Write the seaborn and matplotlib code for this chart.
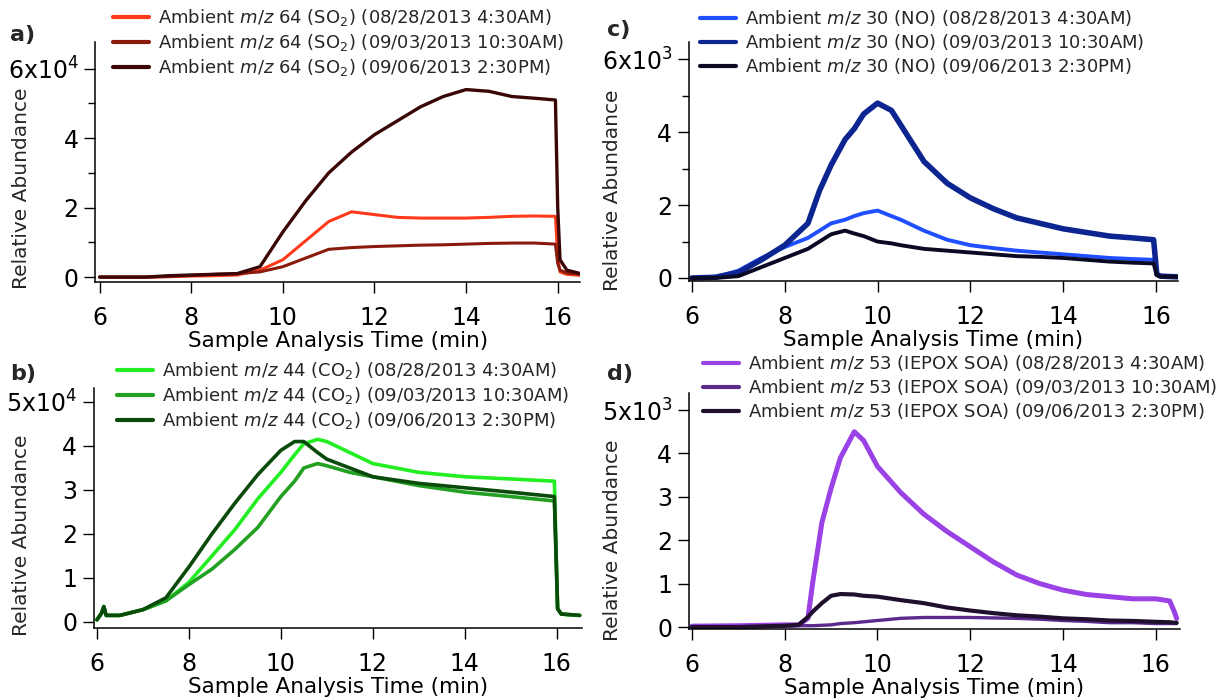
import matplotlib
matplotlib.use("Agg")
import matplotlib.pyplot as plt
import seaborn as sns
from matplotlib.ticker import FixedLocator, FuncFormatter

# ---------------- data ----------------
# Panel a: m/z 64 (SO2), units of 1e4
t_a = [6.0, 7.0, 7.5, 8.0, 8.5, 9.0, 9.5, 10.0, 10.5, 11.0, 11.5, 12.0, 12.5, 13.0,
       13.5, 14.0, 14.5, 15.0, 15.5, 15.95, 16.0, 16.05, 16.2, 16.5]
so2_0828 = [0.0, 0.0, 0.01, 0.03, 0.04, 0.06, 0.2, 0.5, 1.05, 1.6, 1.88, 1.8, 1.72, 1.7,
            1.7, 1.7, 1.72, 1.75, 1.76, 1.75, 0.6, 0.15, 0.08, 0.05]
so2_0903 = [0.0, 0.0, 0.02, 0.05, 0.08, 0.1, 0.15, 0.3, 0.55, 0.8, 0.85, 0.88, 0.9, 0.92,
            0.93, 0.95, 0.97, 0.98, 0.98, 0.95, 0.4, 0.2, 0.12, 0.08]
so2_0906 = [0.0, 0.0, 0.04, 0.06, 0.08, 0.1, 0.3, 1.3, 2.2, 3.0, 3.6, 4.1, 4.5, 4.9,
            5.2, 5.4, 5.35, 5.2, 5.15, 5.1, 2.0, 0.5, 0.2, 0.1]

# Panel b: m/z 44 (CO2), units of 1e4
t_b = [6.0, 6.1, 6.15, 6.2, 6.5, 7.0, 7.5, 8.0, 8.5, 9.0, 9.5, 10.0, 10.3, 10.5, 10.8,
       11.0, 11.5, 12.0, 13.0, 14.0, 15.0, 15.95, 16.02, 16.1, 16.5]
co2_0828 = [0.05, 0.2, 0.35, 0.15, 0.15, 0.28, 0.48, 0.9, 1.5, 2.1, 2.8, 3.4, 3.8, 4.05, 4.15,
            4.1, 3.85, 3.6, 3.4, 3.3, 3.25, 3.2, 0.3, 0.18, 0.15]
co2_0903 = [0.05, 0.2, 0.35, 0.15, 0.15, 0.28, 0.48, 0.85, 1.2, 1.65, 2.15, 2.85, 3.2, 3.5, 3.6,
            3.55, 3.4, 3.3, 3.1, 2.95, 2.85, 2.75, 0.3, 0.18, 0.15]
co2_0906 = [0.05, 0.2, 0.35, 0.15, 0.15, 0.28, 0.55, 1.25, 2.0, 2.7, 3.35, 3.9, 4.1, 4.1, 3.85,
            3.7, 3.5, 3.3, 3.15, 3.05, 2.95, 2.85, 0.3, 0.18, 0.15]

# Panel c: m/z 30 (NO), units of 1e3
t_c = [6.0, 6.5, 7.0, 7.5, 8.0, 8.5, 8.75, 9.0, 9.3, 9.5, 9.7, 10.0, 10.3, 10.5, 11.0, 11.5,
       12.0, 12.5, 13.0, 13.5, 14.0, 14.5, 15.0, 15.5, 15.95, 16.02, 16.1, 16.5]
no_0828 = [0.0, 0.02, 0.2, 0.55, 0.85, 1.1, 1.3, 1.5, 1.6, 1.7, 1.78, 1.85, 1.7, 1.6, 1.3, 1.05,
           0.9, 0.82, 0.75, 0.7, 0.65, 0.6, 0.55, 0.52, 0.5, 0.1, 0.05, 0.03]
no_0903 = [0.0, 0.02, 0.15, 0.5, 0.9, 1.5, 2.4, 3.1, 3.8, 4.1, 4.5, 4.8, 4.6, 4.2, 3.2, 2.6,
           2.2, 1.9, 1.65, 1.5, 1.35, 1.25, 1.15, 1.1, 1.05, 0.1, 0.05, 0.03]
no_0906 = [0.0, 0.0, 0.05, 0.3, 0.55, 0.8, 1.0, 1.2, 1.3, 1.22, 1.15, 1.0, 0.95, 0.9, 0.8, 0.75,
           0.7, 0.65, 0.6, 0.58, 0.55, 0.5, 0.45, 0.42, 0.4, 0.08, 0.04, 0.03]

# Panel d: m/z 53 (IEPOX SOA), units of 1e3
t_d = [6.0, 7.0, 8.0, 8.3, 8.5, 8.6, 8.8, 9.0, 9.2, 9.5, 9.7, 10.0, 10.5, 11.0, 11.5, 12.0,
       12.5, 13.0, 13.5, 14.0, 14.5, 15.0, 15.5, 16.0, 16.3, 16.4, 16.45]
iepox_0828 = [0.02, 0.03, 0.05, 0.05, 0.2, 1.0, 2.4, 3.2, 3.9, 4.5, 4.3, 3.7, 3.1, 2.6, 2.2, 1.85,
              1.5, 1.2, 1.0, 0.85, 0.75, 0.7, 0.65, 0.65, 0.6, 0.35, 0.2]
iepox_0903 = [0.0, 0.0, 0.02, 0.03, 0.03, 0.03, 0.04, 0.05, 0.08, 0.1, 0.12, 0.15, 0.2, 0.22, 0.22, 0.22,
              0.21, 0.2, 0.18, 0.15, 0.13, 0.1, 0.1, 0.08, 0.08, 0.08, 0.08]
iepox_0906 = [0.0, 0.0, 0.03, 0.05, 0.23, 0.35, 0.55, 0.72, 0.76, 0.75, 0.72, 0.7, 0.62, 0.55, 0.45, 0.38,
              0.32, 0.27, 0.24, 0.2, 0.18, 0.15, 0.14, 0.12, 0.11, 0.1, 0.1]

dates = ["(08/28/2013 4:30AM)", "(09/03/2013 10:30AM)", "(09/06/2013 2:30PM)"]
x_ticks = [6, 8, 10, 12, 14, 16]

# ---------------- style ----------------
sns.set_theme(style="ticks")
plt.rcParams['font.family'] = ['DejaVu Sans']
plt.rcParams['mathtext.fontset'] = 'dejavusans'

fig = plt.figure(figsize=(12.25, 7.0), dpi=100)

panels = [
    dict(pos=[0.0776, 0.597, 0.396, 0.343], xlim=(5.90, 16.49), ylim=(-0.144, 6.77),
         t=t_a, ys=[so2_0828, so2_0903, so2_0906],
         colors=["#ff3a1a", "#8a1a0c", "#3a0606"], lws=[2.2, 2.2, 2.4],
         name=r"Ambient $m/z$ 64 (SO$_2$)", major=[0, 2, 4, 6], minor=[1, 3, 5], exp=4,
         letter="a)", letter_xy=(10, 35), leg=(113, 7), ylab=(22, 188)),
    dict(pos=[0.5624, 0.5986, 0.399, 0.341], xlim=(5.935, 16.47), ylim=(-0.082, 6.47),
         t=t_c, ys=[no_0828, no_0903, no_0906],
         colors=["#1f4fff", "#0c2590", "#0a0a24"], lws=[2.8, 4.0, 2.8],
         name=r"Ambient $m/z$ 30 (NO)", major=[0, 2, 4, 6], minor=[1, 3, 5], exp=3,
         letter="c)", letter_xy=(607, 30), leg=(700, 8), ylab=(612, 190)),
    dict(pos=[0.0767, 0.1029, 0.398, 0.343], xlim=(5.935, 16.54), ylim=(-0.136, 5.32),
         t=t_b, ys=[co2_0828, co2_0903, co2_0906],
         colors=["#22ee22", "#22a022", "#0a4a0a"], lws=[2.6, 2.6, 2.6],
         name=r"Ambient $m/z$ 44 (CO$_2$)", major=[0, 1, 2, 3, 4, 5], minor=[], exp=4,
         letter="b)", letter_xy=(10, 374), leg=(117, 360), ylab=(22, 535)),
    dict(pos=[0.5624, 0.1014, 0.4008, 0.337], xlim=(5.935, 16.52), ylim=(-0.046, 5.39),
         t=t_d, ys=[iepox_0828, iepox_0903, iepox_0906],
         colors=["#9a42e6", "#5a2a8c", "#20102e"], lws=[3.6, 2.4, 3.0],
         name=r"Ambient $m/z$ 53 (IEPOX SOA)", major=[0, 1, 2, 3, 4, 5], minor=[], exp=3,
         letter="d)", letter_xy=(607, 374), leg=(703, 353), ylab=(612, 540)),
]

W, H = 1225.0, 700.0
for p in panels:
    ax = fig.add_axes(p["pos"])
    for y, c, lw, d in zip(p["ys"], p["colors"], p["lws"], dates):
        sns.lineplot(x=p["t"], y=y, ax=ax, color=c, linewidth=lw,
                     estimator=None, sort=False, label=f"{p['name']} {d}")
    ax.set_xlim(*p["xlim"])
    ax.set_ylim(*p["ylim"])
    sns.despine(ax=ax)
    for s in ["left", "bottom"]:
        ax.spines[s].set_linewidth(1.1)
        ax.spines[s].set_color("black")
    ax.xaxis.set_major_locator(FixedLocator(x_ticks))
    ax.yaxis.set_major_locator(FixedLocator(p["major"]))
    if p["minor"]:
        ax.yaxis.set_minor_locator(FixedLocator(p["minor"]))
    top = max(p["major"])
    exp = p["exp"]
    ax.yaxis.set_major_formatter(FuncFormatter(
        lambda v, pos, top=top, exp=exp: (f"{int(v)}x10$^{{{exp}}}$" if v == top else f"{int(v)}")))
    ax.tick_params(axis="both", which="major", direction="out", length=8, width=1.0,
                   labelsize=17, colors="black")
    ax.tick_params(axis="x", which="major", pad=9)
    ax.tick_params(axis="y", which="major", pad=4)
    ax.tick_params(axis="y", which="minor", direction="out", length=5, width=1.0, colors="black")
    ax.set_xlabel("Sample Analysis Time (min)", fontsize=15.5, labelpad=1, color="black")
    ax.set_ylabel("")
    ax.set_facecolor("white")
    fig.text(p["ylab"][0] / W, 1 - p["ylab"][1] / H, "Relative Abundance", rotation=90,
             ha="center", va="center", fontsize=14.5)
    fig.text(p["letter_xy"][0] / W, 1 - p["letter_xy"][1] / H, p["letter"],
             fontsize=16, fontweight="bold", ha="left", va="center")
    ax.legend(loc="upper left", bbox_to_anchor=(p["leg"][0] / W, 1 - p["leg"][1] / H),
              bbox_transform=fig.transFigure, frameon=False, fontsize=13,
              handlelength=2.0, handletextpad=0.5, labelspacing=0.22, borderaxespad=0,
              borderpad=0)
    for ln in ax.get_legend().get_lines():
        ln.set_linewidth(3.0)

fig.savefig("out.png", dpi=100, facecolor="white")
